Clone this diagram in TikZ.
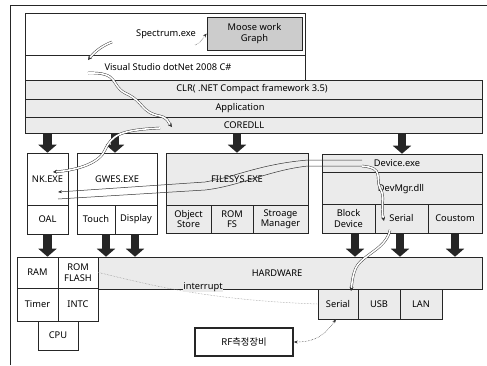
\documentclass[tikz,border=0pt]{standalone}
\usepackage{fontspec}
\setmainfont{Noto Sans}
\newfontfamily\krfont{Noto Sans CJK KR}
\usetikzlibrary{arrows.meta,calc}
\begin{document}
\begin{tikzpicture}[x=1pt,y=-1pt,
  box/.style={draw=black!85, line width=0.6pt, inner sep=0pt, fill=white, font=\fontsize{9.3}{10.5}\selectfont, align=center},
  sp/.style={box, fill=black!8},
  txt/.style={font=\fontsize{9.3}{10.5}\selectfont, align=center, inner sep=0pt},
  blk/.style={draw=black!85, line width=8.5pt, -{Triangle[length=8pt,width=18pt]}},
  rib/.style={draw=black!80, double=white, double distance=1.6pt, line width=0.45pt, -{Stealth[length=4pt,width=4pt]}},
  thinarr/.style={draw=black!80, line width=0.5pt, -{Stealth[length=4pt,width=3pt]}},
  thinline/.style={draw=black!80, line width=0.5pt},
]
\useasboundingbox (0,0) rectangle (487,365);
\draw[line width=0.6pt, black!85] (10,365) -- (10,5) -- (487,5);

% top stack
\node[box, minimum width=280, minimum height=42] (spec) at (165,34) {};
\node[txt] (spectxt) at (166,34) {Spectrum.exe};
\node[box, fill=black!20, minimum width=95, minimum height=33] (moose) at (254.5,33.5) {Moose work\\Graph};
\node[box, minimum width=280, minimum height=25] (vs) at (165,67.5) {};
\node[txt] at (168,67.5) {Visual Studio dotNet 2008 C\#};
\node[sp, minimum width=457, minimum height=19] (clr) at (253.5,89.5) {};
\node[txt] at (252,89.5) {CLR( .NET Compact framework 3.5)};
\node[sp, minimum width=457, minimum height=18] (app) at (253.5,108) {};
\node[txt] at (240,108) {Application};
\node[sp, minimum width=457, minimum height=16] (core) at (253.5,125) {};
\node[txt] at (244,125) {COREDLL};

% middle row
\node[box, minimum width=41, minimum height=52] (nk) at (47.5,179) {NK.EXE};
\node[box, minimum width=41, minimum height=29] (oal) at (47.5,219.5) {OAL};
\node[box, minimum width=80, minimum height=52] (gwes) at (117,179) {GWES.EXE};
\node[box, minimum width=38, minimum height=29] (touch) at (96,219.5) {Touch};
\node[box, minimum width=42, minimum height=29] (display) at (136,219.5) {Display};
\node[sp, minimum width=142, minimum height=52] (filesys) at (237,179) {FILESYS.EXE};
\node[sp, minimum width=45, minimum height=28] (objstore) at (188.5,219) {Object\\Store};
\node[sp, minimum width=42, minimum height=28] (romfs) at (232,219) {ROM\\FS};
\node[sp, minimum width=55, minimum height=28] (stor) at (280.5,219) {Stroage\\Manager};
\node[sp, minimum width=160, minimum height=18] (device) at (402,163) {};
\node[txt] at (397,163) {Device.exe};
\node[sp, minimum width=160, minimum height=32] (devmgr) at (402,188) {};
\node[txt] at (401,189) {DevMgr.dll};
\node[sp, minimum width=53, minimum height=29] (blockdev) at (348.5,218.5) {Block\\Device};
\node[sp, minimum width=53, minimum height=29] (serial) at (401.5,218.5) {Serial};
\node[sp, minimum width=54, minimum height=29] (coustom) at (455,218.5) {Coustom};

% bottom
\node[sp, minimum width=384, minimum height=32] (hw) at (290,273) {};
\node[txt] at (277,273) {HARDWARE};
\node[box, minimum width=41, minimum height=31] (ram) at (37.5,272.5) {RAM};
\node[box, minimum width=40, minimum height=31] (rom) at (78,272.5) {ROM\\FLASH};
\node[box, minimum width=41, minimum height=33] (timer) at (37.5,304.5) {Timer};
\node[box, minimum width=40, minimum height=33] (intc) at (78,304.5) {INTC};
\node[box, minimum width=40, minimum height=29] (cpu) at (58,335.5) {CPU};
\node[sp, minimum width=40, minimum height=30] (hserial) at (338,304) {Serial};
\node[sp, minimum width=42, minimum height=30] (usb) at (379,304) {USB};
\node[sp, minimum width=42, minimum height=30] (lan) at (421,304) {LAN};
\node[box, line width=1.4pt, minimum width=98, minimum height=28] (rf) at (244,342) {\krfont RF측정장비};

% block arrows
\draw[blk] (core.south -| nk) -- (nk.north);
\draw[blk] ([xshift=-2]core.south -| gwes) -- ([xshift=-2]gwes.north);
\draw[blk] (core.south -| filesys) -- (filesys.north);
\draw[blk] (core.south -| device) -- (device.north);
\draw[blk] (oal.south) -- (oal.south |- ram.north);
\draw[blk] ([xshift=10]touch.south) -- ([xshift=10]touch.south |- hw.north);
\draw[blk] ([xshift=-1]display.south) -- ([xshift=-1]display.south |- hw.north);
\draw[blk] ([xshift=6.5]blockdev.south) -- ([xshift=6.5]blockdev.south |- hw.north);
\draw[blk] ([xshift=-1.5]serial.south) -- ([xshift=-1.5]serial.south |- hw.north);
\draw[blk] (coustom.south) -- (coustom.south |- hw.north);

% interrupt
\draw[densely dotted, black!45, line width=0.5pt] (rom.east) .. controls (140,282) and (200,300) .. (hserial.west);
\node[txt, fill=black!8, inner sep=0.5pt] at (203,287) {interrupt};

% curvy connectors
\coordinate (s1) at (195,45);
\draw[densely dotted, thinarr] (s1) .. controls (200,44) and (202,39) .. (moose.west);
\coordinate (r0a) at (112,42);
\coordinate (r0b) at (88,60);
\draw[rib] (r0a) .. controls (104,45) and (96,50) .. (r0b);
\coordinate (r1a) at (88,73);
\coordinate (r1b) at (172,127);
\draw[rib] (r1a) .. controls (120,72) and (110,85) .. (125,93)
  .. controls (145,102) and (140,112) .. (160,116) .. controls (168,118) and (168,122) .. (r1b);
\coordinate (r2a) at (160,128);
\coordinate (r2b) at (53,172);
\draw[rib] (r2a) .. controls (120,130) and (112,135) .. (105,150) .. controls (100,162) and (80,170) .. (r2b);
\coordinate (l1a) at (362,160);
\coordinate (l1b) at (58,192);
\draw[thinarr] (l1a) -- (308,160) .. controls (260,164) and (235,177) .. (205,182) -- (l1b);
\coordinate (l2a) at (362,166);
\coordinate (l2b) at (58,199);
\draw[thinline] (l2a) -- (308,166) .. controls (270,170) and (240,186) .. (205,190) -- (l2b);
\coordinate (r3a) at (362,166);
\coordinate (r3b) at (384,221);
\draw[rib] (r3a) .. controls (385,168) and (375,178) .. (380,188) .. controls (386,198) and (380,205) .. (r3b);
\coordinate (r4a) at (390,230);
\coordinate (r4b) at (351,291);
\draw[rib] (r4a) .. controls (386,250) and (360,255) .. (355,270) .. controls (352,278) and (352,284) .. (r4b);
\draw[densely dotted, thinline, {Stealth[length=4pt,width=3pt]}-{Stealth[length=4pt,width=3pt]}] (rf.east) .. controls (320,342) and (328,330) .. ([xshift=-2]hserial.south);
\end{tikzpicture}
\end{document}
